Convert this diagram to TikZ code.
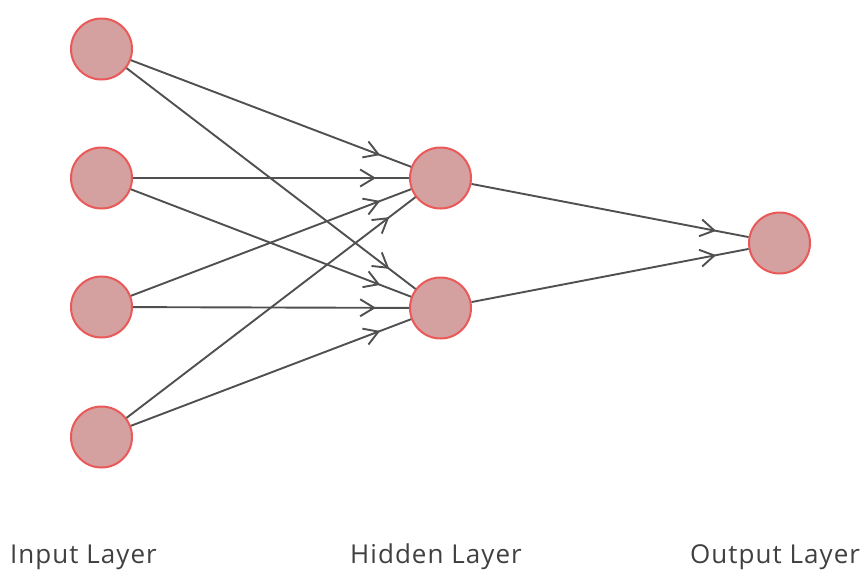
\documentclass[tikz,border=0pt]{standalone}
\usepackage{fontspec}
\setmainfont{Open Sans}[LetterSpace=4]
\usetikzlibrary{arrows.meta,decorations.markings}
\definecolor{nfill}{RGB}{212,160,160}
\definecolor{nedge}{RGB}{234,88,88}
\definecolor{lcol}{RGB}{80,80,80}
\tikzset{
  neuron/.style={circle,draw=nedge,fill=nfill,line width=2pt,minimum size=61pt,inner sep=0pt},
  conn/.style={draw=lcol,line width=1.9pt,postaction={decorate},
    decoration={markings,mark=at position -33pt with {\arrow[lcol]{Straight Barb[length=14pt,width=17pt,line width=1.9pt]}}}},
  lbl/.style={anchor=base west,inner sep=0pt,font=\fontsize{26}{30}\selectfont,text=black!75}
}
\begin{document}
\begin{tikzpicture}[x=1pt,y=-1pt]
\useasboundingbox (0,0) rectangle (864,571);
\node[neuron] (i1) at (101.5,49) {};
\node[neuron] (i2) at (101.5,178) {};
\node[neuron] (i3) at (101.5,307) {};
\node[neuron] (i4) at (101.5,437) {};
\node[neuron] (h1) at (440.5,178) {};
\node[neuron] (h2) at (440.5,308) {};
\node[neuron] (o1) at (779.5,243) {};
\foreach \a in {i1,i2,i3,i4}{
  \foreach \b in {h1,h2}{
    \path[conn] (\a) -- (\b);
  }
}
\path[conn] (h1) -- (o1);
\path[conn] (h2) -- (o1);
\node[lbl] (t1) at (10,563) {Input Layer};
\node[lbl] (t2) at (350,563) {Hidden Layer};
\node[lbl] (t3) at (690,563) {Output Layer};
\end{tikzpicture}
\end{document}
